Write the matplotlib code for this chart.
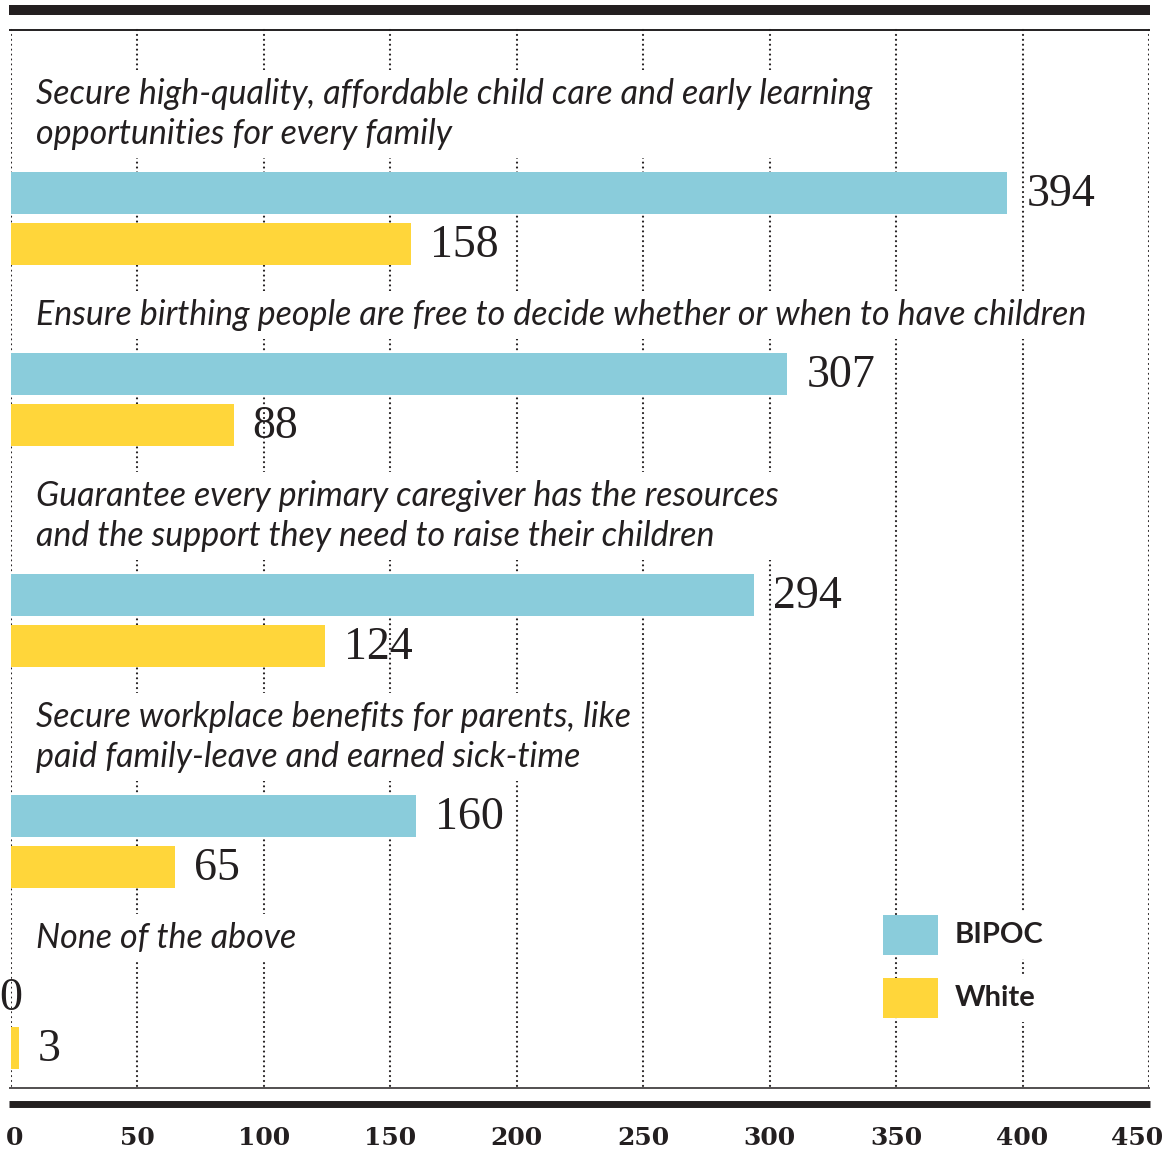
import matplotlib
matplotlib.use('Agg')
from matplotlib import pyplot as plt
from matplotlib.patches import Rectangle

# data
categories = [
    "Secure high-quality, affordable child care and early learning\nopportunities for every family",
    "Ensure birthing people are free to decide whether or when to have children",
    "Guarantee every primary caregiver has the resources\nand the support they need to raise their children",
    "Secure workplace benefits for parents, like\npaid family-leave and earned sick-time",
    "None of the above",
]
bipoc = [394, 307, 294, 160, 0]
white = [158, 88, 124, 65, 3]
series_names = ['BIPOC', 'White']
xticks = [0, 50, 100, 150, 200, 250, 300, 350, 400, 450]

cyan = '#8ACCDB'
yellow = '#FFD63A'
ink = '#231F20'

W, H = 1167, 1150
fig = plt.figure(figsize=(W / 100, H / 100), dpi=100)

# main axes: x in data units, y in pixel rows (top = 0)
ax = fig.add_axes([11 / W, 0, 1138 / W, 1])
ax.set_xlim(0, 450)
ax.set_ylim(H, 0)
ax.axis('off')

# vertical layout, driven by the number of label lines
line_gap = 40
cursor = 94
label_y, bipoc_y, white_y = [], [], []
for cat in categories:
    n = cat.count('\n') + 1
    label_y.append(cursor + line_gap * (n - 1) / 2)
    last = cursor + line_gap * (n - 1)
    bipoc_y.append(last + 59)
    white_y.append(last + 59 + 51)
    cursor = last + 59 + 51 + 71

# dotted grid
grid = ax.vlines(xticks, 30, 1088, colors=ink, linestyles=(0, (0.01, 2.2)), lw=1.6, zorder=1)
grid.set_capstyle('round')

# category labels
for cat, y in zip(categories, label_y):
    ax.annotate(cat, (0, y), xytext=(25, 0), textcoords='offset pixels',
                ha='left', va='center', fontsize=24.5, style='italic',
                fontfamily='Lato', color=ink, linespacing=1.3, zorder=2,
                bbox=dict(facecolor='white', edgecolor='none', pad=6))

# bars
ax.barh(bipoc_y, bipoc, height=42, color=cyan, zorder=3)
ax.barh(white_y, white, height=42, color=yellow, zorder=3)

# value labels
for vals, ys in [(bipoc, bipoc_y), (white, white_y)]:
    for v, y in zip(vals, ys):
        if v == 0:
            ax.annotate(str(v), (v, y + 2), ha='center', va='center', fontsize=33,
                        fontfamily='Liberation Serif', color=ink, zorder=4)
        else:
            ax.annotate(str(v), (v, y + 2), xytext=(19, 0), textcoords='offset pixels',
                        ha='left', va='center', fontsize=33,
                        fontfamily='Liberation Serif', color=ink, zorder=4)

# x tick labels
for i, t in enumerate(xticks):
    dx = 0
    if i == 0:
        dx = 4
    elif i == len(xticks) - 1:
        dx = -12
    ax.annotate(str(t), (t, 1138), xytext=(dx, 0), textcoords='offset pixels',
                ha='center', va='center', fontsize=18, fontweight='bold',
                fontfamily='DejaVu Serif', color=ink)

# overlay in pixel coords for rules and legend
lay = fig.add_axes([0, 0, 1, 1])
lay.set_xlim(0, W)
lay.set_ylim(H, 0)
lay.axis('off')
lay.patch.set_alpha(0)

lay.plot([9, 1150], [10, 10], color=ink, lw=7.2, solid_capstyle='butt')
lay.plot([9, 1150], [30, 30], color=ink, lw=1.4, solid_capstyle='butt')
lay.plot([9, 1150], [1088, 1088], color=ink, lw=1.1, solid_capstyle='butt')
lay.plot([9, 1150], [1103.5, 1103.5], color=ink, lw=5, solid_capstyle='butt')

# legend
for name, col, y in zip(series_names, [cyan, yellow], [935, 998]):
    lay.add_patch(Rectangle((883, y - 20), 55, 40, facecolor=col, edgecolor='none'))
    lay.text(955, y, name, ha='left', va='center', fontsize=21, fontweight='bold',
             fontfamily='Lato', color=ink,
             bbox=dict(facecolor='white', edgecolor='none', pad=8))

fig.savefig('out.png', dpi=100)
